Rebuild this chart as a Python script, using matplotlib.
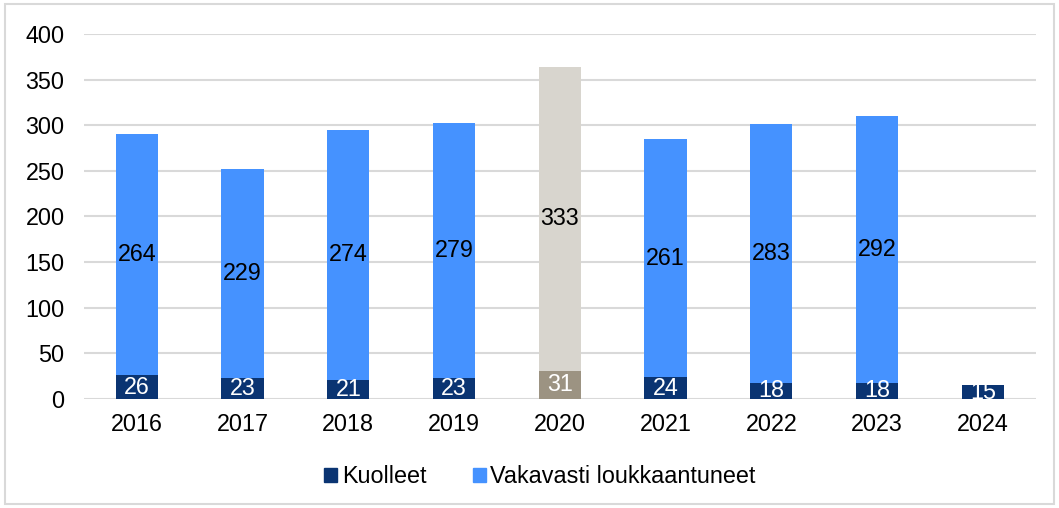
import matplotlib
matplotlib.use("Agg")
import matplotlib.pyplot as plt
import numpy as np
from matplotlib.patches import Rectangle

# ---------------------------------------------------------------------------
# Data
# ---------------------------------------------------------------------------
YEARS = ["2016", "2017", "2018", "2019", "2020", "2021", "2022", "2023", "2024"]
KUOLLEET = [26, 23, 21, 23, 31, 24, 18, 18, 15]
VAKAVASTI = [264, 229, 274, 279, 333, 261, 283, 292, None]

HIGHLIGHT = "2020"

NAVY = "#0A3472"
BLUE = "#4592FF"
GREY_DARK = "#9C9382"
GREY_LIGHT = "#D8D5CE"

plt.rcParams["font.family"] = ["Liberation Sans", "DejaVu Sans"]
FS = 16.8


def main() -> None:
    fig = plt.figure(figsize=(10.59, 5.08), dpi=100, facecolor="white")
    ax = fig.add_axes([0.0793, 0.2146, 0.8987, 0.7185])

    x = np.arange(len(YEARS))
    width = 0.4
    dead = np.array(KUOLLEET, dtype=float)
    injured = np.array([v if v is not None else 0 for v in VAKAVASTI], dtype=float)

    c_dead = [GREY_DARK if y == HIGHLIGHT else NAVY for y in YEARS]
    c_inj = [GREY_LIGHT if y == HIGHLIGHT else BLUE for y in YEARS]

    ax.bar(x, dead, width, color=c_dead, label="Kuolleet", zorder=3)
    ax.bar(x, injured, width, bottom=dead, color=c_inj,
           label="Vakavasti loukkaantuneet", zorder=3)

    # labels inside segments
    for i, y in enumerate(YEARS):
        ax.text(x[i], dead[i] / 2, f"{KUOLLEET[i]}", ha="center", va="center",
                color="white", fontsize=FS, zorder=4)
        if VAKAVASTI[i] is not None:
            ax.text(x[i], dead[i] + injured[i] / 2, f"{VAKAVASTI[i]}",
                    ha="center", va="center", color="black", fontsize=FS, zorder=4)

    ax.set_xlim(-0.5, len(YEARS) - 0.5)
    ax.set_ylim(0, 400)
    ax.set_yticks(np.arange(0, 401, 50))
    ax.set_xticks(x)
    ax.set_xticklabels(YEARS)
    ax.tick_params(axis="both", length=0, labelsize=FS, colors="black")
    ax.tick_params(axis="y", pad=14)
    ax.tick_params(axis="x", pad=10)
    ax.grid(axis="y", color="#D9D9D9", linewidth=1.5, zorder=0)
    for s in ax.spines.values():
        s.set_visible(False)

    labels = ["Kuolleet", "Vakavasti loukkaantuneet"]
    fig.legend(
        [Rectangle((0, 0), 1, 1, color=NAVY), Rectangle((0, 0), 1, 1, color=BLUE)],
        labels,
        loc="center", bbox_to_anchor=(0.51, 0.062), ncol=2, frameon=False,
        fontsize=FS, handlelength=0.55, handleheight=0.55, handletextpad=0.2,
        columnspacing=2.0,
    )

    # light frame around whole chart
    fig.patches.append(Rectangle((0.005, 0.008), 0.99, 0.984, transform=fig.transFigure,
                                 fill=False, edgecolor="#D9D9D9", linewidth=1.5))

    fig.savefig("out.png", dpi=100, facecolor="white")


if __name__ == "__main__":
    main()
